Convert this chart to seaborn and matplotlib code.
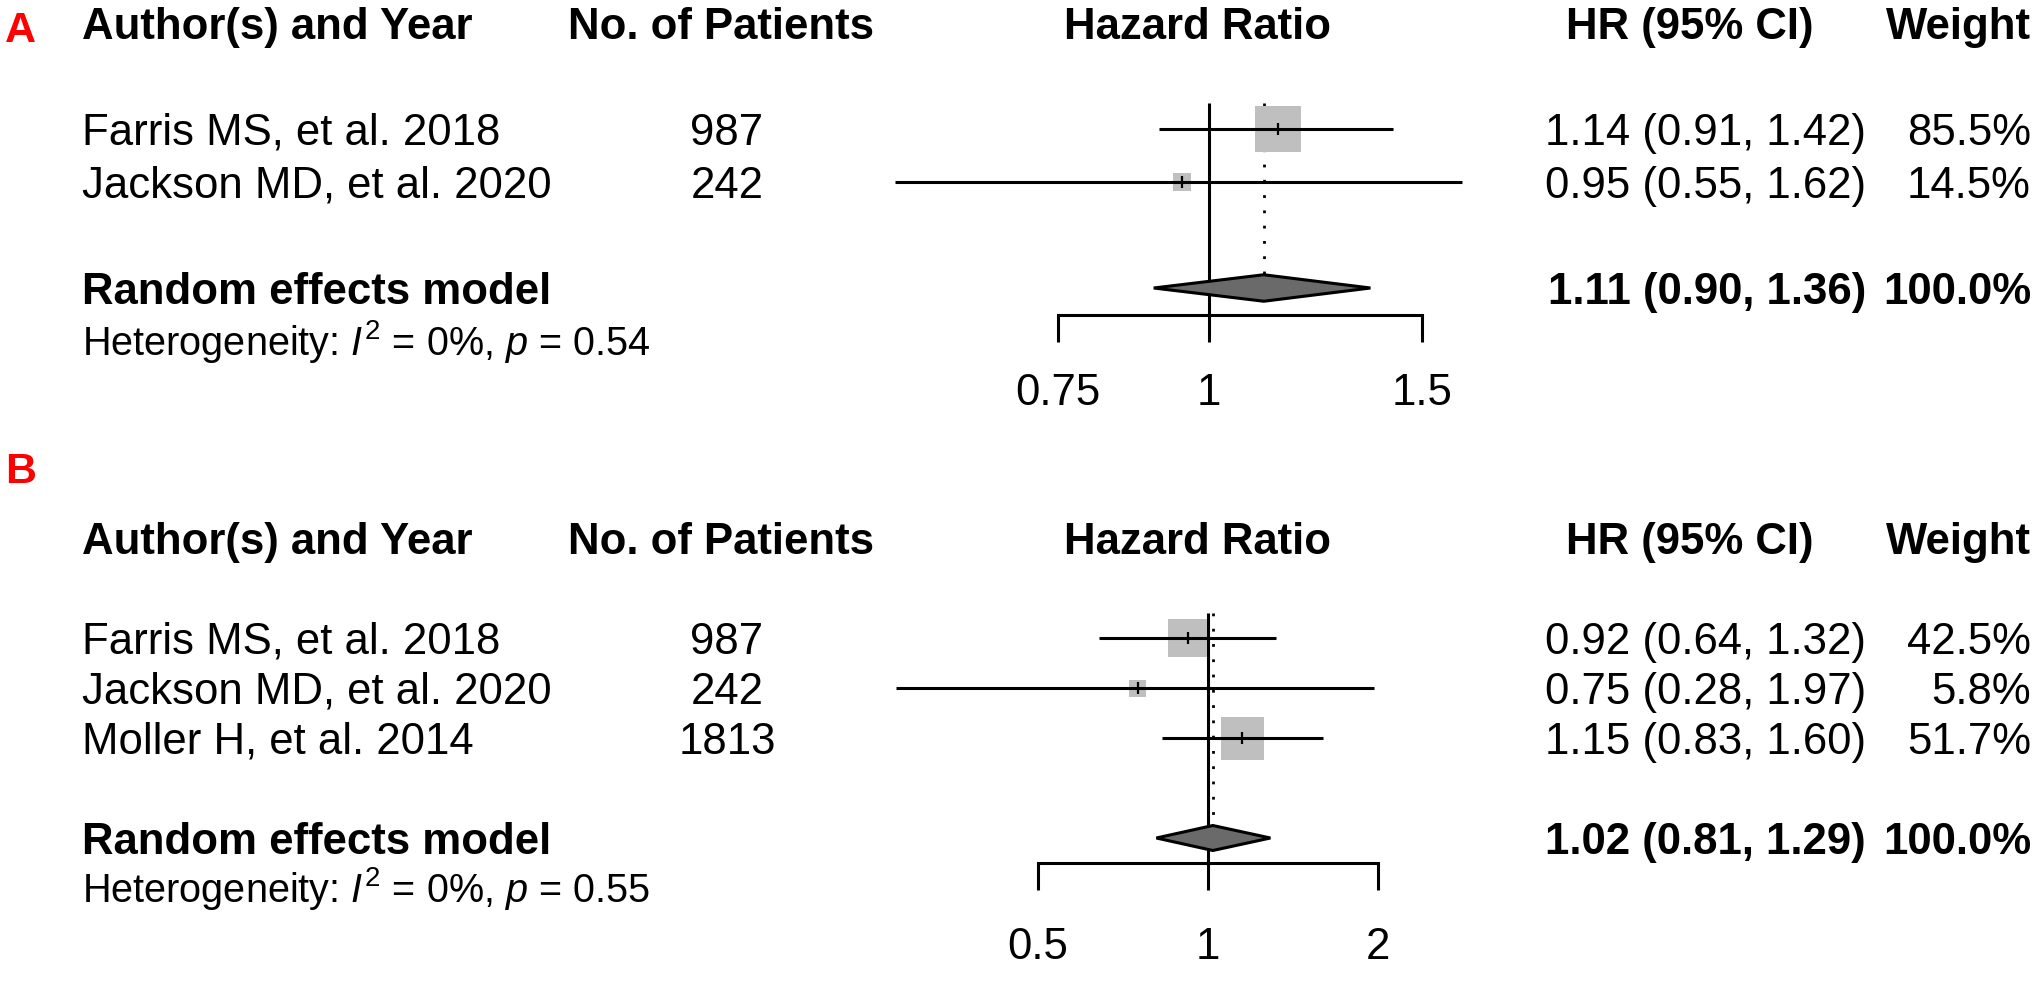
import numpy as np
import seaborn as sns
import matplotlib.pyplot as plt
from matplotlib import transforms
from matplotlib.ticker import NullLocator

# ---- Panel A data ----
a_studies = ["Farris MS, et al. 2018", "Jackson MD, et al. 2020"]
a_patients = [987, 242]
a_hr = [1.14, 0.95]
a_lo = [0.91, 0.55]
a_hi = [1.42, 1.62]
a_weight = [85.5, 14.5]
a_pooled = [1.11, 0.90, 1.36]
a_i2, a_p = 0, 0.54
a_ticks = [0.75, 1, 1.5]
a_tick_labels = ["0.75", "1", "1.5"]

# ---- Panel B data ----
b_studies = ["Farris MS, et al. 2018", "Jackson MD, et al. 2020", "Moller H, et al. 2014"]
b_patients = [987, 242, 1813]
b_hr = [0.92, 0.75, 1.15]
b_lo = [0.64, 0.28, 0.83]
b_hi = [1.32, 1.97, 1.60]
b_weight = [42.5, 5.8, 51.7]
b_pooled = [1.02, 0.81, 1.29]
b_i2, b_p = 0, 0.55
b_ticks = [0.5, 1, 2]
b_tick_labels = ["0.5", "1", "2"]

sns.set_theme(style="white")
plt.rcParams['font.family'] = ['Liberation Sans', 'DejaVu Sans']
plt.rcParams['mathtext.fontset'] = 'custom'
plt.rcParams['mathtext.rm'] = 'Liberation Sans'
plt.rcParams['mathtext.it'] = 'Liberation Sans:italic'

W, H, DPI = 2040, 984, 100
fig = plt.figure(figsize=(W / DPI, H / DPI), dpi=DPI)

FS = 31.5      # main text size (pt)
FS_HET = 28.5
LW = 2.2
PX = 72 / DPI  # points per pixel


def draw_panel(letter, letter_y, row1_px, pitch, x0, px_per_log, label_pad,
               studies, patients, hr, lo, hi, weight, pooled, i2, p,
               ticks, tick_labels):
    n = len(studies)
    pooled_row = n + 2
    het_row = n + 3
    header_row = -1.0
    axis_row = pooled_row + 0.5
    top_row = 0.3

    def row2px(r):
        return row1_px + (r - 1) * pitch

    # forest axes: spans x pixels 880..1490
    left_px, right_px = 880, 1490
    bot_px, top_px = row2px(axis_row), row2px(top_row)
    ax = fig.add_axes([left_px / W, 1 - bot_px / H,
                       (right_px - left_px) / W, (bot_px - top_px) / H])
    ax.set_xscale('log')
    ax.set_xlim(np.exp((left_px - x0) / px_per_log), np.exp((right_px - x0) / px_per_log))
    ax.set_ylim(axis_row, top_row)
    ax.set_facecolor('none')
    for s in ['top', 'right', 'left']:
        ax.spines[s].set_visible(False)
    ax.spines['bottom'].set_linewidth(LW)
    ax.spines['bottom'].set_color('black')
    ax.spines['bottom'].set_bounds(ticks[0], ticks[-1])
    ax.set_yticks([])
    ax.set_xticks(ticks)
    ax.set_xticklabels(tick_labels)
    ax.xaxis.set_minor_locator(NullLocator())
    ax.tick_params(axis='x', bottom=True, direction='out', length=27 * PX, width=LW,
                   color='black', pad=label_pad, labelsize=FS, labelcolor='black')

    rows = np.arange(1, n + 1)
    est, plo, phi = pooled

    # reference line and pooled estimate dotted line
    ax.plot([1, 1], [0.5, axis_row], color='black', lw=LW, zorder=1, solid_capstyle='butt')
    ax.plot([est, est], [0.5, pooled_row - 0.25], color='black', lw=2.0,
            ls=(0, (1, 4.5)), zorder=1)

    # weighted squares
    w = np.array(weight)
    side_px = np.maximum(0.86 * pitch * np.sqrt(w / w.max()), 0.34 * pitch)
    sns.scatterplot(x=hr, y=rows, marker='s', s=(side_px * PX) ** 2, color='#bfbfbf',
                    linewidth=0, ax=ax, zorder=2, legend=False)

    # confidence intervals and point ticks
    ax.hlines(rows, lo, hi, color='black', lw=LW, zorder=3)
    ax.plot(hr, rows, ls='none', marker='|', ms=12.5 * PX, mew=1.6, color='black', zorder=4)

    # pooled diamond
    ax.fill([plo, est, phi, est], [pooled_row, pooled_row - 0.25, pooled_row, pooled_row + 0.25],
            facecolor='#6a6a6a', edgecolor='black', lw=LW, zorder=4)

    # text columns (x in pixels, y in rows)
    def put(x_px, r, s, ha='left', bold=False, size=FS, color='black'):
        tr = transforms.blended_transform_factory(fig.transFigure, ax.transData)
        tr = tr + transforms.ScaledTranslation(0, -0.358 * size / 72, fig.dpi_scale_trans)
        ax.text(x_px / W, r, s, transform=tr, ha=ha, va='baseline', fontsize=size,
                fontweight='bold' if bold else 'normal', color=color, clip_on=False)

    put(82, header_row, "Author(s) and Year", bold=True)
    put(721, header_row, "No. of Patients", ha='center', bold=True)
    put(1197, header_row, "Hazard Ratio", ha='center', bold=True)
    put(1690, header_row, "HR (95% CI)", ha='center', bold=True)
    put(2031, header_row, "Weight", ha='right', bold=True)

    for r, name, npat, h, l, u, wt in zip(rows, studies, patients, hr, lo, hi, weight):
        put(82, r, name)
        put(727, r, str(npat), ha='center')
        put(1866, r, f"{h:.2f} ({l:.2f}, {u:.2f})", ha='right')
        put(2031, r, f"{wt:.1f}%", ha='right')

    put(82, pooled_row, "Random effects model", bold=True)
    put(1866, pooled_row, f"{est:.2f} ({plo:.2f}, {phi:.2f})", ha='right', bold=True)
    put(2031, pooled_row, f"{sum(weight):.1f}%", ha='right', bold=True)
    put(82, het_row, f"Heterogeneity: $I^2$ = {i2}%, $p$ = {p:.2f}", size=FS_HET)

    # panel letter (cap centred on letter_y)
    lsize = 31
    ltr = fig.transFigure + transforms.ScaledTranslation(0, -0.358 * lsize / 72, fig.dpi_scale_trans)
    fig.text(5 / W, 1 - letter_y / H, letter, color='red', fontweight='bold',
             fontsize=lsize, ha='left', va='baseline', transform=ltr)


draw_panel("A", 26.5, 129, 53, 1209, 525, 23,
           a_studies, a_patients, a_hr, a_lo, a_hi, a_weight, a_pooled, a_i2, a_p,
           a_ticks, a_tick_labels)
draw_panel("B", 468, 638, 50, 1208, 245, 26.5,
           b_studies, b_patients, b_hr, b_lo, b_hi, b_weight, b_pooled, b_i2, b_p,
           b_ticks, b_tick_labels)

fig.savefig("out.png", dpi=DPI, facecolor='white')
